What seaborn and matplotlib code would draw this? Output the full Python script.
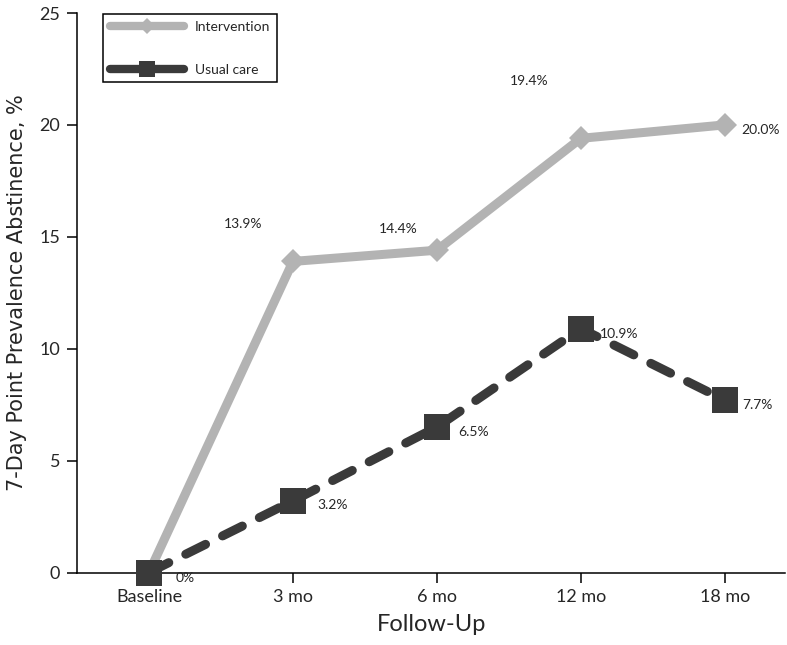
import numpy as np
import pandas as pd
import matplotlib
matplotlib.use('Agg')
import matplotlib.pyplot as plt
from matplotlib.lines import Line2D
import seaborn as sns

# Data
timepoints = ['Baseline', '3 mo', '6 mo', '12 mo', '18 mo']
intervention = [0, 13.9, 14.4, 19.4, 20.0]
usual_care = [0, 3.2, 6.5, 10.9, 7.7]

sns.set_style('ticks')
plt.rcParams['font.family'] = ['Lato', 'DejaVu Sans']

gray = '#b3b3b3'
dark = '#3a3a3a'

df_int = pd.DataFrame({'Follow-Up': timepoints, 'value': intervention})
df_uc = pd.DataFrame({'Follow-Up': timepoints, 'value': usual_care})

fig = plt.figure(figsize=(7.87, 6.45), dpi=100)
ax = fig.add_axes([77 / 787, 72.5 / 645, 0.9, 559.5 / 645])

sns.lineplot(data=df_int, x='Follow-Up', y='value', ax=ax, color=gray,
             linewidth=6.5, marker='D', markersize=12.7, markeredgewidth=0,
             solid_joinstyle='miter', clip_on=False, zorder=3)
sns.lineplot(data=df_uc, x='Follow-Up', y='value', ax=ax, color=dark,
             linewidth=6.5, marker='s', markersize=18.7, markeredgewidth=0,
             linestyle=(0, (2.45, 2.1)), dash_capstyle='round',
             clip_on=False, zorder=4)

ax.set_xlim(-0.5, 4.42)
ax.set_ylim(0, 25)
ax.set_yticks([0, 5, 10, 15, 20, 25])
ax.set_xticks(range(len(timepoints)))
ax.set_xticklabels(timepoints)
sns.despine(ax=ax)
for side in ['left', 'bottom']:
    ax.spines[side].set_color('black')
    ax.spines[side].set_linewidth(1.1)
ax.tick_params(axis='both', length=7.2, width=1.1, color='black',
               labelsize=13, pad=5, direction='out')

ax.set_xlabel('Follow-Up', fontsize=17, labelpad=6)
ax.set_ylabel('7-Day Point Prevalence Abstinence, %', fontsize=15,
              family=['DejaVu Sans'], labelpad=9)

# value labels (offsets in pixels from each point)
int_offsets = [None, (-50, 37), (-39, 21), (-52, 57), (36, -5)]
uc_offsets = [(36, -5), (40, -4), (37, -5), (38, -5), (33, -5)]

def fmt(v):
    return '0%' if v == 0 else f'{v:.1f}%'

for i, (v, off) in enumerate(zip(intervention, int_offsets)):
    if off is None:
        continue
    ax.annotate(fmt(v), xy=(i, v), xytext=(off[0] * 0.72, off[1] * 0.72),
                textcoords='offset points', ha='center', va='center',
                fontsize=10, annotation_clip=False)
for i, (v, off) in enumerate(zip(usual_care, uc_offsets)):
    ax.annotate(fmt(v), xy=(i, v), xytext=(off[0] * 0.72, off[1] * 0.72),
                textcoords='offset points', ha='center', va='center',
                fontsize=10, annotation_clip=False)

handles = [
    Line2D([], [], color=gray, linewidth=6, marker='D', markersize=8,
           markeredgewidth=0, solid_capstyle='round'),
    Line2D([], [], color=dark, linewidth=6, marker='s', markersize=12,
           markeredgewidth=0, solid_capstyle='round'),
]
leg = ax.legend(handles, ['Intervention', 'Usual care'], loc='upper left',
                bbox_to_anchor=(103 / 787, 1 - 14 / 645),
                bbox_transform=fig.transFigure, borderaxespad=0,
                fontsize=10, handlelength=5.3, handletextpad=0.8,
                labelspacing=2.2, borderpad=0.5, fancybox=False,
                framealpha=1, edgecolor='black')
leg.get_frame().set_linewidth(1.1)

fig.savefig('out.png', dpi=100)
